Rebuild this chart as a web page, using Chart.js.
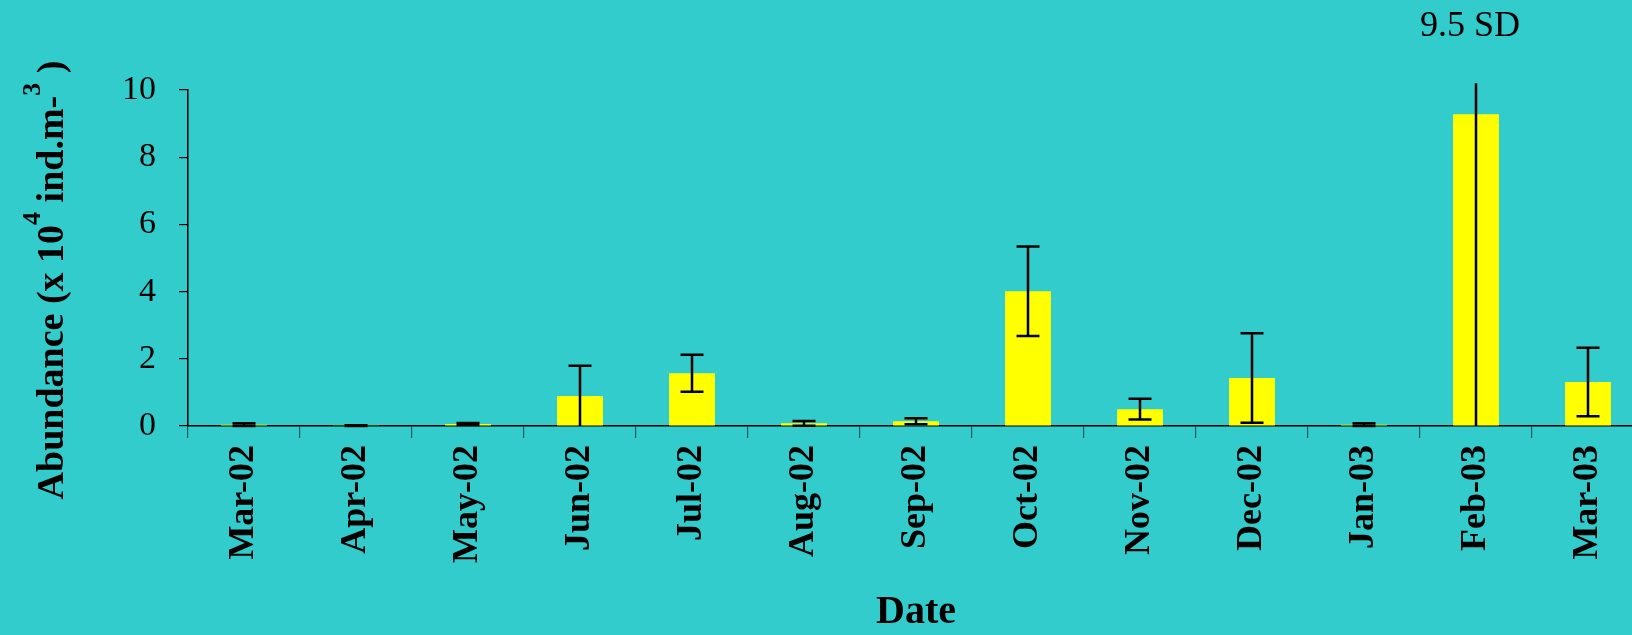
<!DOCTYPE html>
<html>
<head>
<meta charset="utf-8">
<script src="https://cdn.jsdelivr.net/npm/chart.js@4.4.1/dist/chart.umd.min.js"></script>
<style>
  html, body { margin: 0; padding: 0; background: #33CCCC; overflow: hidden; }
  canvas { display: block; }
</style>
</head>
<body>
<canvas id="abundanceChart" width="1644" height="635"></canvas>
<script>
// ─────────────────────────────────────────
// DATA
// ─────────────────────────────────────────

const months = [
  "Mar-02", "Apr-02", "May-02", "Jun-02", "Jul-02", "Aug-02", "Sep-02",
  "Oct-02", "Nov-02", "Dec-02", "Jan-03", "Feb-03", "Mar-03"
];
const abundance = [0.04, 0.01, 0.06, 0.89, 1.57, 0.08, 0.14, 4.01, 0.50, 1.43, 0.04, 9.28, 1.31];
const sd        = [0.04, 0.01, 0.03, 0.90, 0.55, 0.07, 0.09, 1.33, 0.31, 1.33, 0.04, 9.50, 1.02];
const yTicks    = [0, 2, 4, 6, 8, 10];

const noteMonth = "Feb-03";
const noteText  = "9.5 SD";
const errTop    = 10.2;   // error bar is cut just above the axis top

const serif = "'Liberation Serif', 'Times New Roman', serif";

// ─────────────────────────────────────────
// ERROR BARS + NOTE
// ─────────────────────────────────────────

const errorBars = {
  id: "errorBars",
  afterDatasetsDraw(chart) {
    const ctx  = chart.ctx;
    const y    = chart.scales.y;
    const bars = chart.getDatasetMeta(0).data;
    const cap  = 11.5;

    ctx.save();
    ctx.strokeStyle = "#000000";
    ctx.lineWidth = 2.5;
    bars.forEach((bar, i) => {
      const hi = abundance[i] + sd[i];
      const lo = abundance[i] - sd[i];
      const yTop = y.getPixelForValue(Math.min(hi, errTop));
      const yBot = y.getPixelForValue(Math.max(lo, 0));
      ctx.beginPath();
      ctx.moveTo(bar.x, yTop);
      ctx.lineTo(bar.x, yBot);
      if (hi <= errTop) {
        ctx.moveTo(bar.x - cap, yTop);
        ctx.lineTo(bar.x + cap, yTop);
      }
      if (lo >= 0) {
        ctx.moveTo(bar.x - cap, yBot);
        ctx.lineTo(bar.x + cap, yBot);
      }
      ctx.stroke();
    });

    // note above the tallest bar
    const noteBar = bars[months.indexOf(noteMonth)];
    ctx.fillStyle = "#000000";
    ctx.font = "36px " + serif;
    ctx.textAlign = "center";
    ctx.textBaseline = "alphabetic";
    ctx.fillText(noteText, noteBar.x - 6, chart.chartArea.top - 54);
    ctx.restore();
  }
};

// ─────────────────────────────────────────
// Y TITLE WITH SUPERSCRIPTS
// ─────────────────────────────────────────

const yTitle = {
  id: "yTitle",
  afterDraw(chart) {
    const ctx = chart.ctx;
    const parts = [
      { t: "Abundance (x 10", sup: false },
      { t: "4", sup: true },
      { t: " ind.m-", sup: false },
      { t: "3", sup: true },
      { t: " )", sup: false }
    ];
    const mainFont = "bold 38px " + serif;
    const supFont  = "bold 26px " + serif;

    ctx.save();
    let total = 0;
    parts.forEach(p => {
      ctx.font = p.sup ? supFont : mainFont;
      p.w = ctx.measureText(p.t).width;
      total += p.w;
    });

    const area = chart.chartArea;
    const cy = (area.top + area.bottom) / 2 + 22;
    ctx.translate(63, cy);
    ctx.rotate(-Math.PI / 2);
    ctx.fillStyle = "#000000";
    ctx.textAlign = "left";
    ctx.textBaseline = "alphabetic";
    let x = -total / 2;
    parts.forEach(p => {
      ctx.font = p.sup ? supFont : mainFont;
      ctx.fillText(p.t, x, p.sup ? -23 : 0);
      x += p.w;
    });
    ctx.restore();
  }
};

// ─────────────────────────────────────────
// CHART
// ─────────────────────────────────────────

new Chart(document.getElementById("abundanceChart"), {
  type: "bar",
  data: {
    labels: months,
    datasets: [{
      label: "Abundance",
      data: abundance,
      backgroundColor: "#FFFF00",
      borderWidth: 0,
      categoryPercentage: 1,
      barPercentage: 0.41
    }]
  },
  options: {
    responsive: false,
    animation: false,
    devicePixelRatio: 1,
    layout: { padding: { top: 90, right: 0, bottom: 0, left: 0 } },
    plugins: {
      legend: { display: false },
      tooltip: { enabled: false }
    },
    scales: {
      x: {
        grid: {
          drawOnChartArea: false,
          tickLength: 12,
          color: "#1d5a5a",
          lineWidth: 1.2
        },
        border: { color: "#000000", width: 1.5 },
        ticks: {
          color: "#000000",
          font: { family: serif, size: 36, weight: "bold" },
          minRotation: 90,
          maxRotation: 90,
          autoSkip: false,
          padding: 7
        },
        title: {
          display: true,
          text: "Date",
          color: "#000000",
          font: { family: serif, size: 40, weight: "bold", lineHeight: 1 },
          padding: { top: 0, bottom: 2 }
        },
        afterFit(scale) { scale.height = 209; }
      },
      y: {
        min: 0,
        max: 10,
        afterBuildTicks(scale) { scale.ticks = yTicks.map(v => ({ value: v })); },
        grid: {
          drawOnChartArea: false,
          tickLength: 9,
          color: "#000000",
          lineWidth: 1.2
        },
        border: { color: "#000000", width: 1.5 },
        ticks: {
          color: "#000000",
          font: { family: serif, size: 34 },
          padding: 23
        },
        afterFit(scale) { scale.width = 188; }
      }
    }
  },
  plugins: [errorBars, yTitle]
});
</script>
</body>
</html>
